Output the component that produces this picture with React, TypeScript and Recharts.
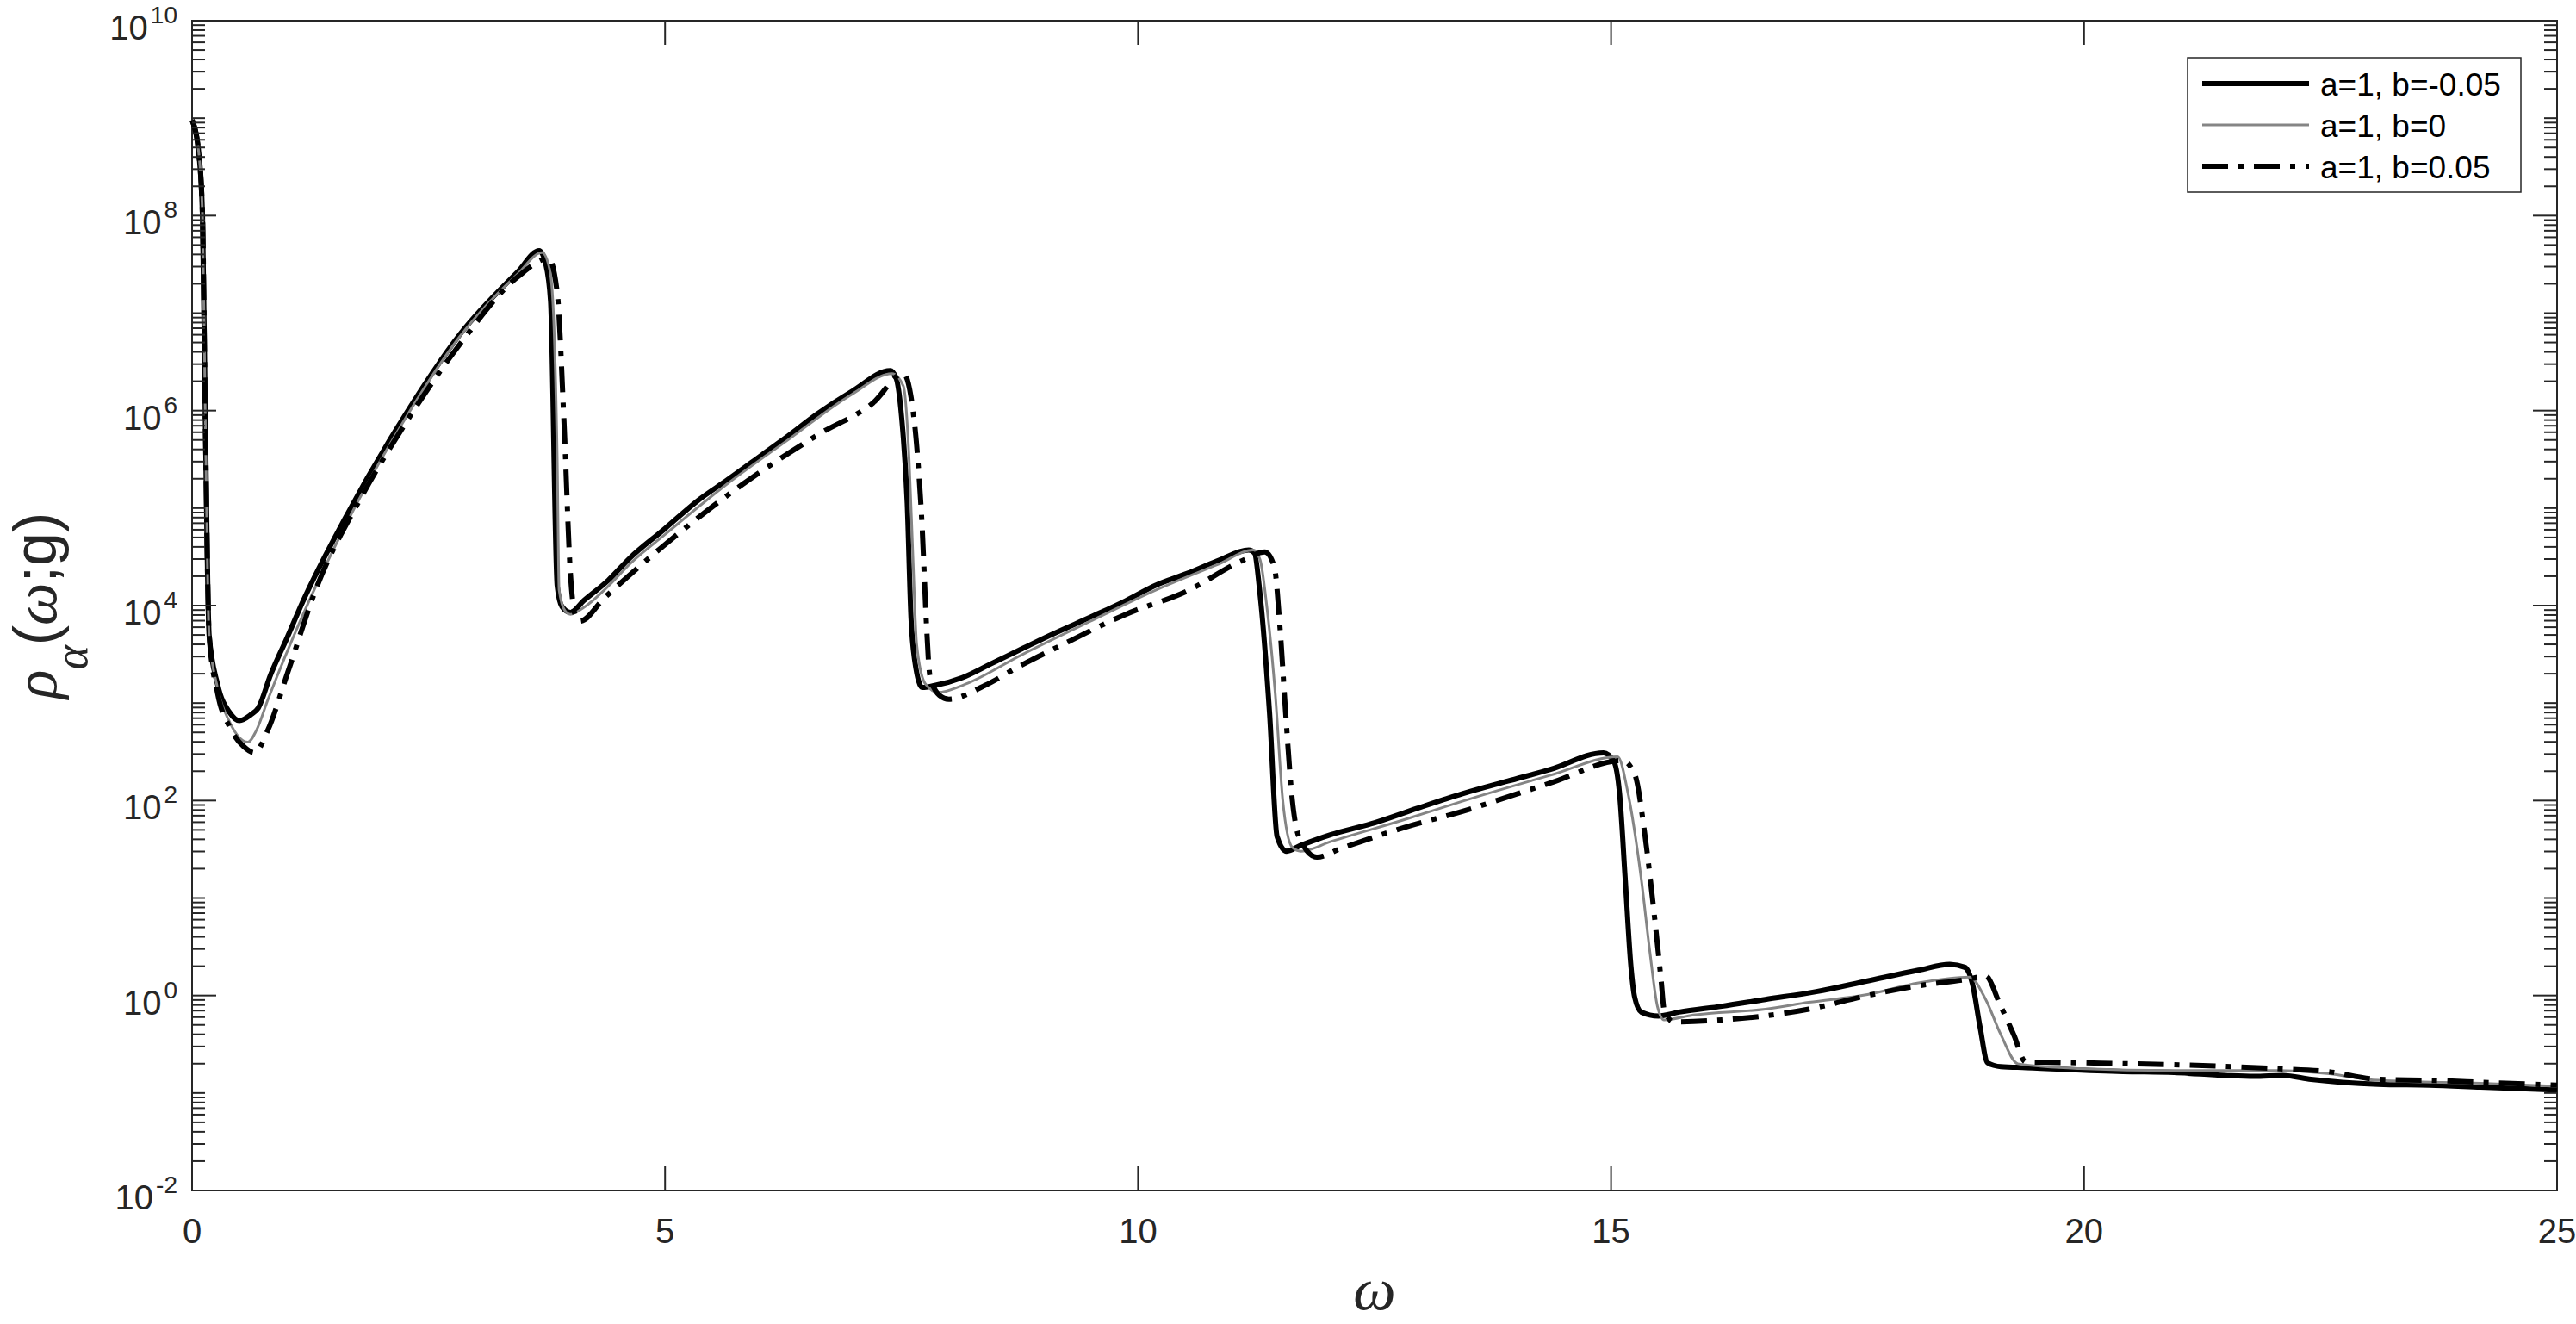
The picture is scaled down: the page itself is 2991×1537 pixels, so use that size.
import {
  Label,
  Legend,
  Line,
  LineChart,
  ReferenceArea,
  XAxis,
  YAxis,
} from "recharts";

// b = -0.05 (solid black)
const omegaNeg = [
  0, 0.07, 0.11, 0.14, 0.18, 0.27, 0.4, 0.5, 0.62, 0.7, 0.83, 1.0, 1.17, 1.62,
  2.23, 2.83, 3.44, 3.67, 3.74, 3.79, 3.86, 3.91, 4.0, 4.14, 4.4, 4.63, 5.0,
  5.35, 5.66, 6.03, 6.3, 6.6, 6.98, 7.38, 7.44, 7.5, 7.56, 7.6, 7.64, 7.72,
  7.85, 8.14, 8.44, 8.78, 9.08, 9.54, 9.87, 10.19, 10.52, 10.84, 11.17, 11.23,
  11.29, 11.39, 11.47, 11.57, 11.72, 12.04, 12.46, 12.95, 13.43, 13.91, 14.36,
  14.92, 15.03, 15.09, 15.15, 15.21, 15.25, 15.32, 15.5, 15.72, 16.17, 16.63,
  17.17, 17.71, 18.25, 18.58, 18.74, 18.82, 18.9, 18.98, 19.12, 19.39, 20.41,
  20.95, 21.49, 21.8, 22.1, 22.4, 23.11, 23.65, 24.19, 25,
];
const logRhoNeg = [
  8.98, 8.65, 8.0, 5.9, 3.7, 3.19, 2.9, 2.82, 2.88, 2.95, 3.29, 3.66, 4.04, 4.9,
  5.92, 6.78, 7.42, 7.64, 7.5, 7.12, 4.2, 3.99, 3.93, 4.05, 4.26, 4.49, 4.79,
  5.08, 5.29, 5.55, 5.74, 5.96, 6.2, 6.41, 6.34, 5.94, 5.05, 3.87, 3.43, 3.16,
  3.18, 3.26, 3.4, 3.56, 3.7, 3.9, 4.05, 4.21, 4.33, 4.46, 4.57, 4.54, 4.11,
  2.9, 1.63, 1.48, 1.54, 1.65, 1.76, 1.92, 2.07, 2.2, 2.32, 2.49, 2.4, 2.07,
  1.19, 0.3, -0.02, -0.17, -0.21, -0.17, -0.11, -0.04, 0.04, 0.15, 0.26, 0.32,
  0.29, 0.12, -0.32, -0.69, -0.73, -0.74, -0.78, -0.79, -0.82, -0.83, -0.82,
  -0.86, -0.91, -0.92, -0.94, -0.97,
];

// b = 0 (thin grey)
const omegaZero = [
  0, 0.07, 0.11, 0.14, 0.18, 0.27, 0.4, 0.59, 0.68, 0.8, 1.16, 1.62, 2.23, 2.83,
  3.44, 3.7, 3.78, 3.82, 3.86, 3.88, 3.94, 4.0, 4.14, 4.4, 4.63, 5.0, 5.66, 6.3,
  6.98, 7.4, 7.52, 7.58, 7.62, 7.66, 7.75, 7.89, 8.14, 8.78, 9.54, 10.19, 10.84,
  11.22, 11.29, 11.36, 11.45, 11.53, 11.63, 11.72, 12.04, 12.8, 13.45, 14.36,
  15.07, 15.18, 15.32, 15.41, 15.49, 15.56, 15.87, 16.63, 17.09, 17.71, 18.25,
  18.79, 18.96, 19.12, 19.3, 19.95, 20.95, 22.03, 22.57, 23.11, 24.19, 25,
];
const logRhoZero = [
  8.98, 8.65, 8.0, 5.9, 3.7, 3.15, 2.8, 2.6, 2.72, 3.03, 3.88, 4.82, 5.88, 6.76,
  7.4, 7.62, 7.45, 7.0, 5.5, 4.16, 3.95, 3.91, 3.98, 4.2, 4.43, 4.73, 5.25, 5.7,
  6.17, 6.38, 6.25, 5.5, 4.5, 3.6, 3.2, 3.11, 3.18, 3.5, 3.86, 4.16, 4.42,
  4.57, 4.47, 4.0, 3.1, 2.0, 1.52, 1.48, 1.58, 1.8, 2.0, 2.26, 2.45, 2.07, 1.19,
  0.45, -0.11, -0.25, -0.2, -0.14, -0.07, 0.01, 0.13, 0.19, -0.04, -0.4, -0.7,
  -0.75, -0.77, -0.77, -0.8, -0.87, -0.9, -0.93,
];

// b = 0.05 (dash-dot black)
const omegaPos = [
  0, 0.07, 0.11, 0.14, 0.18, 0.27, 0.4, 0.55, 0.66, 0.8, 1.01, 1.31, 1.77, 2.23,
  2.83, 3.44, 3.77, 3.86, 3.93, 4.0, 4.05, 4.1, 4.36, 4.98, 5.8, 6.63, 7.2,
  7.52, 7.6, 7.66, 7.72, 7.76, 7.8, 7.9, 8.0, 8.38, 8.75, 9.12, 9.87, 10.52, 11.1,
  11.34, 11.44, 11.5, 11.56, 11.63, 11.7, 11.89, 12.15, 12.8, 13.43, 14.36,
  15.12, 15.25, 15.36, 15.45, 15.53, 15.56, 15.66, 16.17, 17.09, 17.71, 18.25,
  18.79, 18.96, 19.11, 19.26, 19.38, 19.97, 20.95, 22.03, 22.57, 23.11, 23.65,
  24.19, 25,
];
const logRhoPos = [
  8.98, 8.65, 8.0, 5.9, 3.7, 3.1, 2.75, 2.55, 2.49, 2.72, 3.31, 4.17, 5.08,
  5.83, 6.68, 7.37, 7.56, 7.21, 5.92, 4.32, 3.9, 3.84, 4.08, 4.61, 5.23, 5.76,
  6.08, 6.38, 6.14, 5.64, 4.76, 3.87, 3.28, 3.08, 3.04, 3.18, 3.38, 3.56, 3.91,
  4.15, 4.46, 4.55, 4.4, 3.78, 2.9, 2.01, 1.63, 1.42, 1.51, 1.72, 1.89, 2.18,
  2.41, 2.27, 1.63, 0.89, 0.15, -0.14, -0.27, -0.25, -0.14, 0.0, 0.1, 0.17, 0.2,
  -0.09, -0.41, -0.68, -0.69, -0.71, -0.75, -0.78, -0.86, -0.87, -0.89, -0.92,
];

const seriesNames = ["a=1, b=-0.05", "a=1, b=0", "a=1, b=0.05"];
const xTicks = [0, 5, 10, 15, 20, 25];
const yDecades = [-2, -1, 0, 1, 2, 3, 4, 5, 6, 7, 8, 9, 10];
const yLabelledDecades = [-2, 0, 2, 4, 6, 8, 10];
const yMinorMultipliers = [2, 3, 4, 5, 6, 7, 8, 9];

const W = 2991;
const H = 1537;
const PLOT = { left: 223, top: 24, right: 2969, bottom: 1382 };
const AXIS_COLOR = "#262626";
const SANS = "'Liberation Sans', Arial, Helvetica, sans-serif";
const SERIF = "'Liberation Serif', 'Times New Roman', serif";

const DASH_DOT = "30 12 6 12";

type Row = { w: number; neg?: number; zero?: number; pos?: number };

function buildRows(): Row[] {
  const map = new Map<number, Row>();
  const add = (ws: number[], logs: number[], key: "neg" | "zero" | "pos") => {
    ws.forEach((w, i) => {
      const row = map.get(w) ?? { w };
      row[key] = Math.pow(10, logs[i]);
      map.set(w, row);
    });
  };
  add(omegaNeg, logRhoNeg, "neg");
  add(omegaZero, logRhoZero, "zero");
  add(omegaPos, logRhoPos, "pos");
  return Array.from(map.values()).sort((a, b) => a.w - b.w);
}

const rows = buildRows();

const yTicks: number[] = [];
yDecades.forEach((e) => {
  yTicks.push(Math.pow(10, e));
  if (e < 10) yMinorMultipliers.forEach((m) => yTicks.push(m * Math.pow(10, e)));
});

const XTick = (props: any) => {
  const { x, payload } = props;
  return (
    <g>
      <line x1={x} x2={x} y1={PLOT.bottom} y2={PLOT.bottom - 28} stroke={AXIS_COLOR} strokeWidth={2} />
      <line x1={x} x2={x} y1={PLOT.top} y2={PLOT.top + 28} stroke={AXIS_COLOR} strokeWidth={2} />
      <text x={x} y={PLOT.bottom + 61} textAnchor="middle" fontFamily={SANS} fontSize={40} fill={AXIS_COLOR}>
        {payload.value}
      </text>
    </g>
  );
};

const YTick = (props: any) => {
  const { y, payload } = props;
  const e = Math.log10(payload.value);
  const isDecade = Math.abs(e - Math.round(e)) < 1e-6;
  const labelled = isDecade && yLabelledDecades.includes(Math.round(e));
  const len = labelled ? 28 : 15;
  return (
    <g>
      <line x1={PLOT.left} x2={PLOT.left + len} y1={y} y2={y} stroke={AXIS_COLOR} strokeWidth={2} />
      <line x1={PLOT.right} x2={PLOT.right - len} y1={y} y2={y} stroke={AXIS_COLOR} strokeWidth={2} />
      {labelled && (
        <text x={206} y={y + 22} textAnchor="end" fontFamily={SANS} fontSize={40} fill={AXIS_COLOR}>
          <tspan>10</tspan>
          <tspan dx={3} dy={-19} fontSize={28}>
            {String(Math.round(e))}
          </tspan>
        </text>
      )}
    </g>
  );
};

const YTitle = () => {
  const cx = 65;
  const cy = 703;
  return (
    <text
      x={cx}
      y={cy}
      transform={`rotate(-90, ${cx}, ${cy})`}
      textAnchor="middle"
      fontSize={70}
      fill={AXIS_COLOR}
    >
      <tspan fontFamily={SERIF} fontStyle="italic">ρ</tspan>
      <tspan fontFamily={SERIF} fontStyle="italic" fontSize={54} dy={36}>α</tspan>
      <tspan fontFamily={SANS} dy={-36}>(</tspan>
      <tspan fontFamily={SERIF} fontStyle="italic">ω</tspan>
      <tspan fontFamily={SANS}>;g)</tspan>
    </text>
  );
};

const XTitle = () => (
  <text
    x={(PLOT.left + PLOT.right) / 2}
    y={1520}
    textAnchor="middle"
    fontFamily={SERIF}
    fontStyle="italic"
    fontSize={70}
    fill={AXIS_COLOR}
  >
    ω
  </text>
);

const legendStyles = [
  { stroke: "#000000", width: 6, dash: undefined as string | undefined },
  { stroke: "#858585", width: 3, dash: undefined as string | undefined },
  { stroke: "#000000", width: 6, dash: DASH_DOT },
];

const LegendBox = () => (
  <svg width={389} height={158} style={{ display: "block" }}>
    <rect x={1} y={1} width={387} height={156} fill="#ffffff" stroke={AXIS_COLOR} strokeWidth={1.5} />
    {seriesNames.map((name, i) => {
      const cy = 31 + i * 48;
      const s = legendStyles[i];
      return (
        <g key={name}>
          <line x1={18} x2={142} y1={cy} y2={cy} stroke={s.stroke} strokeWidth={s.width} strokeDasharray={s.dash} />
          <text x={155} y={cy + 14} fontFamily={SANS} fontSize={37} fill="#000000">
            {name}
          </text>
        </g>
      );
    })}
  </svg>
);

export default function App() {
  return (
    <div style={{ position: "absolute", left: 0, top: 0, width: W, height: H, background: "#ffffff" }}>
      <LineChart
        width={W}
        height={H}
        data={rows}
        margin={{ top: PLOT.top, right: W - PLOT.right, bottom: 0, left: 0 }}
      >
        <XAxis
          dataKey="w"
          type="number"
          domain={[0, 25]}
          ticks={xTicks}
          interval={0}
          height={H - PLOT.bottom}
          axisLine={false}
          tickLine={false}
          tick={(p: any) => <XTick {...p} />}
        >
          <Label content={() => <XTitle />} />
        </XAxis>
        <YAxis
          type="number"
          scale="log"
          domain={[0.01, 1e10]}
          allowDataOverflow
          ticks={yTicks}
          interval={0}
          width={PLOT.left}
          axisLine={false}
          tickLine={false}
          tick={(p: any) => <YTick {...p} />}
        >
          <Label content={() => <YTitle />} />
        </YAxis>
        <ReferenceArea
          x1={0}
          x2={25}
          y1={0.01}
          y2={1e10}
          fill="none"
          stroke={AXIS_COLOR}
          strokeWidth={2}
          ifOverflow="visible"
        />
        <Line
          dataKey="neg"
          name={seriesNames[0]}
          type="monotone"
          stroke="#000000"
          strokeWidth={6}
          strokeLinejoin="round"
          dot={false}
          connectNulls
          isAnimationActive={false}
        />
        <Line
          dataKey="zero"
          name={seriesNames[1]}
          type="monotone"
          stroke="#858585"
          strokeWidth={3}
          strokeLinejoin="round"
          dot={false}
          connectNulls
          isAnimationActive={false}
        />
        <Line
          dataKey="pos"
          name={seriesNames[2]}
          type="monotone"
          stroke="#000000"
          strokeWidth={6}
          strokeDasharray={DASH_DOT}
          dot={false}
          connectNulls
          isAnimationActive={false}
        />
        <Legend
          layout="vertical"
          align="center"
          verticalAlign="middle"
          wrapperStyle={{ left: 2539, top: 66, width: 389, height: 158 }}
          content={() => <LegendBox />}
        />
      </LineChart>
    </div>
  );
}
